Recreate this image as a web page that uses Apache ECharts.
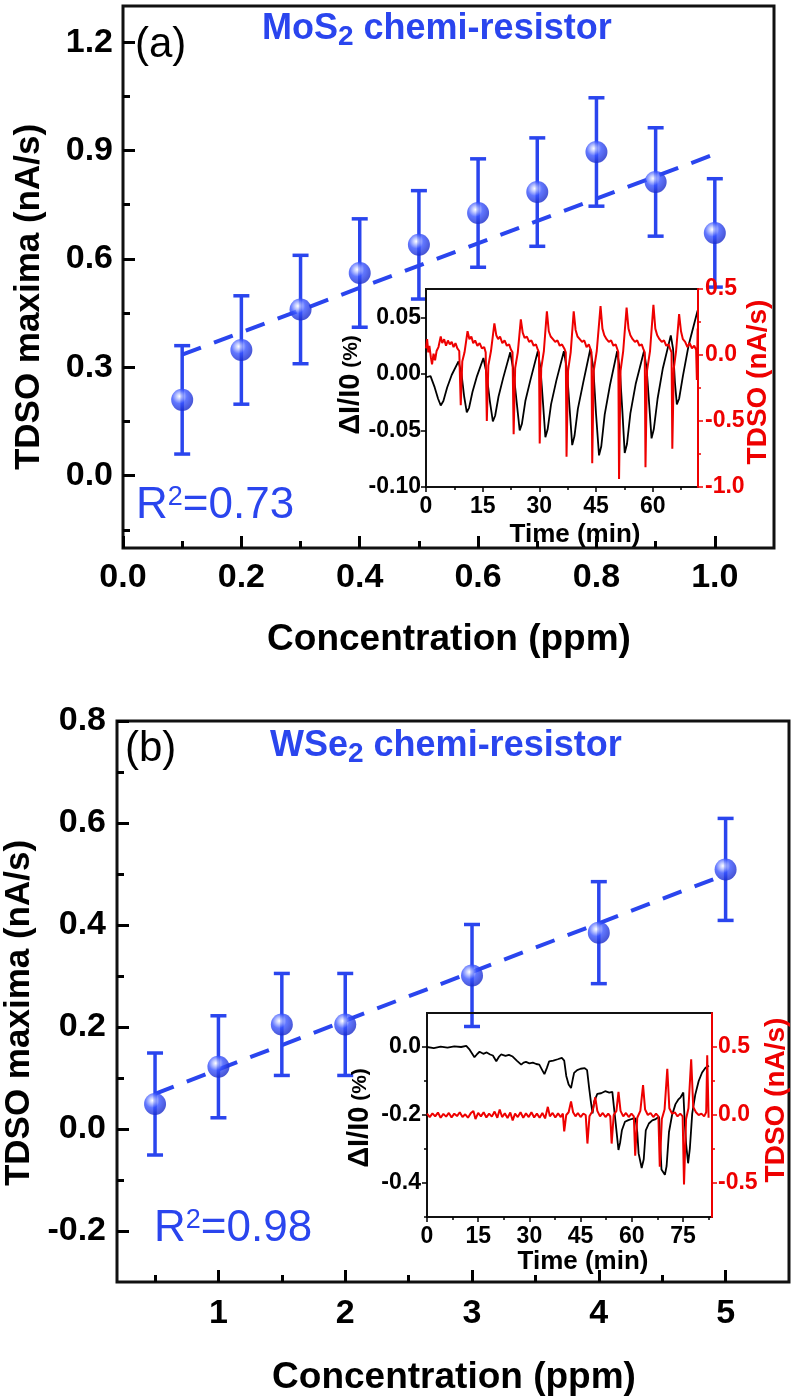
<!DOCTYPE html>
<html>
<head>
<meta charset="utf-8">
<script src="https://cdn.jsdelivr.net/npm/echarts@6/dist/echarts.min.js"></script>
<style>
  html, body { margin: 0; padding: 0; background: #fff; }
  #chart { width: 792px; height: 1397px; }
</style>
</head>
<body>
<div id="chart"></div>
<script>
const FONT = "'Liberation Sans', Arial, sans-serif";
const BLUE = '#2a45ee';
const RED = '#ee0000';

// panel (a): MoS2
const concA = [0.1, 0.2, 0.3, 0.4, 0.5, 0.6, 0.7, 0.8, 0.9, 1.0];
const tdsoA = [0.21, 0.348, 0.46, 0.561, 0.639, 0.727, 0.785, 0.896, 0.813, 0.672];
const errA = [0.15, 0.15, 0.15, 0.15, 0.15, 0.15, 0.15, 0.15, 0.15, 0.15];
const fitA = [[0.1, 0.335], [1.0, 0.89]];

// panel (b): WSe2
const concB = [0.5, 1, 1.5, 2, 3, 4, 5];
const tdsoB = [0.049, 0.122, 0.205, 0.205, 0.301, 0.385, 0.509];
const errB = [0.1, 0.1, 0.1, 0.1, 0.1, 0.1, 0.1];
const fitB = [[0.5, 0.069], [5, 0.499]];

// tick positions
const xTicksA = [0, 0.2, 0.4, 0.6, 0.8, 1.0];
const xMinorA = [0.1, 0.3, 0.5, 0.7, 0.9];
const yTicksA = [0, 0.3, 0.6, 0.9, 1.2];
const yMinorA = [-0.15, 0.15, 0.45, 0.75, 1.05];
const xTicksB = [1, 2, 3, 4, 5];
const xMinorB = [0.5, 1.5, 2.5, 3.5, 4.5];
const yTicksB = [-0.2, 0, 0.2, 0.4, 0.6, 0.8];
const yMinorB = [-0.1, 0.1, 0.3, 0.5, 0.7];

// insets
const ixTicksA = [0, 15, 30, 45, 60];
const ixMinorA = [7.5, 22.5, 37.5, 52.5, 67.5];
const iyTicksA = [-0.1, -0.05, 0, 0.05];
const iyRightA = [-1, -0.5, 0, 0.5];
const iyRightMinorA = [-0.75, -0.25, 0.25];
const ixTicksB = [0, 15, 30, 45, 60, 75];
const ixMinorB = [7.5, 22.5, 37.5, 52.5, 67.5, 82.5];
const iyTicksB = [-0.4, -0.2, 0];
const iyMinorB = [-0.5, -0.3, -0.1];
const iyRightB = [-0.5, 0, 0.5];
const iyRightMinorB = [-0.25, 0.25];

// inset (a): time (min), dI/I0 (%)
const dIA = [
  [0, -0.003], [1.2, -0.002], [2.3, -0.012], [3.2, -0.022], [3.9, -0.028], [4.6, -0.024], [5.6, -0.012], [6.8, -0.001], [8.6, 0.011],
  [9.4, 0.000], [10.1, -0.020], [10.8, -0.034], [11.4, -0.030], [12.3, -0.016], [13.5, -0.002], [15.2, 0.014],
  [16.0, 0.001], [16.9, -0.024], [17.7, -0.042], [18.3, -0.037], [19.2, -0.020], [20.4, -0.004], [22.3, 0.019],
  [23.1, 0.004], [24.0, -0.025], [24.8, -0.050], [25.4, -0.044], [26.3, -0.024], [27.6, -0.006], [29.6, 0.020],
  [30.3, 0.005], [31.0, -0.027], [31.6, -0.056], [32.2, -0.049], [33.1, -0.027], [34.5, -0.006], [36.5, 0.020],
  [37.3, 0.004], [38.0, -0.030], [38.7, -0.063], [39.3, -0.055], [40.2, -0.031], [41.6, -0.008], [43.5, 0.022],
  [44.3, 0.005], [45.0, -0.035], [45.8, -0.072], [46.4, -0.064], [47.3, -0.036], [48.7, -0.010], [50.6, 0.020],
  [51.3, 0.004], [52.0, -0.034], [52.6, -0.070], [53.2, -0.062], [54.1, -0.035], [55.5, -0.009], [57.7, 0.020],
  [58.4, 0.005], [59.1, -0.028], [59.7, -0.057], [60.3, -0.049], [61.3, -0.022], [62.7, 0.005], [64.8, 0.034],
  [65.4, 0.022], [65.9, -0.008], [66.4, -0.027], [67.0, -0.022], [68.0, -0.002], [69.5, 0.025], [71.9, 0.056]
];
const tdsoInA = [
  [0, 0.05], [0.3, 0.12], [0.6, 0.02], [0.9, 0.07], [1.3, -0.02], [1.6, -0.07], [2.0, 0.01], [2.4, -0.04], [2.8, 0.03], [3.3, 0.06],
  [3.9, 0.14], [4.3, 0.09], [4.8, 0.12], [5.3, 0.07], [5.8, 0.11], [6.3, 0.08], [6.8, 0.10], [7.3, 0.06], [7.8, 0.09], [8.3, 0.05], [8.8, 0.03],
  [9.2, -0.38], [9.6, -0.05], [10.2, 0.02], [11.0, 0.18], [11.5, 0.12], [12.0, 0.14], [12.5, 0.09], [13.0, 0.11], [13.6, 0.07], [14.2, 0.09], [14.8, 0.05], [15.4, 0.06], [15.8, 0.02],
  [16.1, -0.50], [16.5, -0.08], [17.2, 0.03], [18.1, 0.24], [18.6, 0.15], [19.1, 0.12], [19.6, 0.14], [20.2, 0.09], [20.8, 0.11], [21.4, 0.07], [22.0, 0.08], [22.5, 0.04], [22.9, 0.02],
  [23.2, -0.60], [23.6, -0.10], [24.3, 0.02], [25.1, 0.27], [25.6, 0.17], [26.1, 0.13], [26.7, 0.14], [27.3, 0.10], [27.9, 0.11], [28.5, 0.07], [29.1, 0.08], [29.6, 0.04], [29.9, 0.02],
  [30.1, -0.67], [30.5, -0.10], [31.2, 0.03], [32.0, 0.33], [32.5, 0.18], [33.0, 0.14], [33.6, 0.12], [34.2, 0.10], [34.8, 0.11], [35.4, 0.07], [36.0, 0.08], [36.6, 0.05], [37.0, 0.02],
  [37.2, -0.77], [37.6, -0.12], [38.3, 0.02], [39.1, 0.33], [39.6, 0.19], [40.1, 0.14], [40.7, 0.12], [41.3, 0.10], [41.9, 0.11], [42.5, 0.06], [43.1, 0.08], [43.6, 0.04], [43.8, 0.02],
  [44.0, -0.82], [44.4, -0.12], [45.2, 0.03], [46.2, 0.37], [46.7, 0.20], [47.2, 0.15], [47.8, 0.12], [48.4, 0.10], [49.0, 0.11], [49.6, 0.07], [50.2, 0.08], [50.7, 0.04], [50.9, 0.02],
  [51.1, -0.94], [51.5, -0.12], [52.2, 0.03], [53.1, 0.36], [53.6, 0.20], [54.1, 0.15], [54.7, 0.12], [55.3, 0.10], [55.9, 0.11], [56.5, 0.07], [57.1, 0.08], [57.6, 0.04], [57.9, 0.02],
  [58.1, -0.85], [58.5, -0.12], [59.3, 0.03], [60.2, 0.38], [60.7, 0.20], [61.2, 0.15], [61.8, 0.12], [62.4, 0.10], [63.0, 0.11], [63.6, 0.07], [64.2, 0.08], [64.7, 0.04], [65.0, 0.02],
  [65.2, -0.71], [65.6, -0.10], [66.2, 0.03], [67.0, 0.31], [67.5, 0.18], [68.0, 0.12], [68.6, 0.10], [69.2, 0.06], [69.8, 0.09], [70.4, 0.05], [71.0, 0.07], [71.5, 0.04], [71.7, -0.19], [71.9, 0.20]
];

// inset (b)
const dIB = [
  [0, 0.0], [2, -0.003], [4, 0.001], [6, -0.002], [8, 0.002], [10, 0.0], [11.5, 0.003], [12.5, -0.008], [13.9, -0.03], [14.6, -0.022],
  [15.4, -0.014], [16.5, -0.02], [17.5, -0.016], [18.5, -0.022], [19.3, -0.025], [20.3, -0.042], [21.0, -0.03], [21.7, -0.022], [23, -0.026],
  [24, -0.023], [25.1, -0.028], [26.3, -0.04], [27.6, -0.052], [28.3, -0.046], [29.0, -0.044], [30, -0.048], [31, -0.046], [32, -0.05],
  [32.9, -0.052], [33.6, -0.065], [34.4, -0.08], [35.1, -0.062], [35.8, -0.042], [37, -0.040], [38.3, -0.036], [39.5, -0.032], [40.2, -0.04],
  [40.8, -0.085], [41.5, -0.11], [42.2, -0.121], [42.7, -0.095], [43.1, -0.076], [44, -0.068], [45.0, -0.064], [46.2, -0.062], [46.9, -0.068],
  [47.5, -0.12], [48.0, -0.16], [48.5, -0.195], [49.0, -0.16], [49.9, -0.138], [51, -0.136], [52.2, -0.13], [53.4, -0.134], [54.3, -0.132],
  [54.8, -0.18], [55.3, -0.226], [56.1, -0.303], [56.6, -0.28], [57.1, -0.245], [58.0, -0.22], [59.0, -0.215], [60.2, -0.211], [61.1, -0.21],
  [61.6, -0.25], [62.0, -0.313], [62.9, -0.356], [63.5, -0.33], [64.1, -0.245], [65, -0.225], [66, -0.216], [67, -0.212], [68, -0.205],
  [68.4, -0.30], [68.7, -0.36], [69.7, -0.376], [70.2, -0.35], [70.9, -0.25], [71.8, -0.2], [72.8, -0.168], [73.6, -0.155], [74.3, -0.148],
  [75.1, -0.134], [75.5, -0.22], [75.9, -0.284], [76.5, -0.342], [77.0, -0.30], [77.7, -0.196], [78.6, -0.14], [79.6, -0.10], [80.6, -0.075],
  [81.6, -0.061], [82.6, -0.055]
];
const tdsoInB = [
  [0, 0.01], [0.8, -0.015], [1.6, 0.012], [2.4, -0.01], [3.2, 0.018], [4.0, -0.02], [4.8, 0.008], [5.6, -0.012], [6.4, 0.015], [7.2, -0.018],
  [8.0, 0.01], [8.8, -0.008], [9.6, 0.02], [10.4, -0.015], [11.2, 0.005], [12.0, -0.02], [12.8, 0.012], [13.6, 0.03], [14.2, -0.03], [15.0, 0.015],
  [15.8, -0.01], [16.6, 0.02], [17.4, -0.018], [18.2, 0.01], [19.0, -0.012], [19.8, 0.025], [20.6, -0.02], [21.3, 0.04], [22.0, -0.015], [22.8, 0.012],
  [23.6, -0.022], [24.4, 0.018], [25.1, -0.04], [25.8, 0.01], [26.6, -0.015], [27.4, 0.02], [28.2, -0.02], [29.0, 0.012], [29.8, -0.015], [30.6, 0.02],
  [31.4, -0.018], [32.2, 0.01], [33.0, -0.02], [33.8, 0.015], [34.6, -0.025], [35.4, 0.06], [36.0, -0.01], [36.8, 0.015], [37.6, -0.018], [38.4, 0.012],
  [39.2, -0.015], [39.8, 0.01], [40.2, -0.12], [40.8, 0.0], [41.5, 0.02], [42.2, 0.10], [42.8, 0.02], [43.5, -0.01], [44.2, 0.015], [45.0, -0.015],
  [45.8, 0.01], [46.5, 0.0], [47.0, -0.21], [47.6, -0.01], [48.5, 0.03], [49.3, 0.13], [49.9, 0.03], [50.7, -0.01], [51.5, 0.015], [52.3, -0.015],
  [53.1, 0.01], [53.7, -0.01], [54.1, -0.21], [54.7, 0.0], [55.5, 0.03], [56.1, 0.17], [56.7, 0.03], [57.5, -0.01], [58.3, 0.015], [59.1, -0.015],
  [59.9, 0.01], [60.6, -0.01], [61.0, -0.30], [61.6, -0.02], [62.5, 0.03], [63.3, 0.22], [63.9, 0.04], [64.7, 0.0], [65.5, 0.015], [66.3, -0.015],
  [67.1, 0.01], [67.8, -0.01], [68.2, -0.38], [68.8, -0.03], [69.6, 0.04], [70.4, 0.34], [71.0, 0.05], [71.8, 0.01], [72.6, 0.02], [73.4, -0.01],
  [74.2, 0.01], [74.9, -0.01], [75.3, -0.51], [75.9, -0.03], [76.6, 0.05], [77.4, 0.41], [78.0, 0.06], [78.8, 0.02], [79.6, 0.0], [80.4, 0.01],
  [81.2, -0.01], [81.8, 0.02], [82.1, 0.44], [82.5, -0.02]
];

function mkAxis(o) {
  const color = o.color || '#000';
  return {
    type: 'value', gridIndex: o.grid, position: o.pos, min: o.min, max: o.max, z: o.z || 2,
    axisLine: { show: !!o.line, onZero: false, lineStyle: { color: color, width: o.line || 1 } },
    axisTick: { show: true, inside: !!o.inside, length: o.len, customValues: o.ticks,
      lineStyle: { color: color, width: o.tw || 2 } },
    axisLabel: o.dec !== undefined ? {
      show: true, customValues: o.ticks, formatter: v => v.toFixed(o.dec),
      margin: o.margin, color: color, fontSize: o.fs, fontWeight: 'bold', fontFamily: FONT
    } : { show: false },
    splitLine: { show: false }
  };
}

function errorBar(params, api) {
  const x = api.value(0), lo = api.value(1), hi = api.value(2);
  const top = api.coord([x, hi]), bot = api.coord([x, lo]);
  const w = 8;
  const style = { stroke: BLUE, lineWidth: 3.5 };
  return {
    type: 'group',
    children: [
      { type: 'line', shape: { x1: top[0], y1: top[1], x2: bot[0], y2: bot[1] }, style },
      { type: 'line', shape: { x1: top[0] - w, y1: top[1], x2: top[0] + w, y2: top[1] }, style },
      { type: 'line', shape: { x1: bot[0] - w, y1: bot[1], x2: bot[0] + w, y2: bot[1] }, style }
    ]
  };
}

const ball = {
  type: 'radial', x: 0.38, y: 0.34, r: 0.66,
  colorStops: [
    { offset: 0, color: '#ffffff' }, { offset: 0.18, color: '#bcc6ff' },
    { offset: 0.5, color: '#3a55ff' }, { offset: 1, color: '#1a2ccc' }
  ]
};

function mainSeries(xi, yi, conc, vals, errs, fit) {
  return [
    { type: 'line', xAxisIndex: xi, yAxisIndex: yi, data: fit, symbol: 'none', silent: true, z: 3,
      lineStyle: { color: BLUE, width: 4, type: [20, 14] } },
    { type: 'custom', xAxisIndex: xi, yAxisIndex: yi, renderItem: errorBar, z: 3,
      encode: { x: 0, y: [1, 2] },
      data: conc.map((c, i) => [c, vals[i] - errs[i], vals[i] + errs[i]]) },
    { type: 'scatter', xAxisIndex: xi, yAxisIndex: yi, symbolSize: 22, z: 4,
      itemStyle: { color: ball }, data: conc.map((c, i) => [c, vals[i]]) }
  ];
}

function rot(text, x, y, rich) {
  return { type: 'text', x: x, y: y, rotation: Math.PI / 2, z: 50,
    style: { text: text, rich: rich, textAlign: 'center', textVerticalAlign: 'middle' } };
}
function plain(text, x, y, font, fill, align) {
  return { type: 'text', x: x, y: y, z: 50,
    style: { text: text, font: font, fill: fill || '#000', textAlign: align || 'center', textVerticalAlign: 'middle' } };
}

const chemRich = {
  a: { fontSize: 36, fontWeight: 'bold', fontFamily: FONT, fill: BLUE, lineHeight: 40, verticalAlign: 'top' },
  s: { fontSize: 28, fontWeight: 'bold', fontFamily: FONT, fill: BLUE, lineHeight: 40, verticalAlign: 'top', padding: [12, 0, 0, 0] }
};
const r2Rich = {
  a: { fontSize: 44, fontFamily: FONT, fill: BLUE, lineHeight: 50, verticalAlign: 'top' },
  s: { fontSize: 27, fontFamily: FONT, fill: BLUE, lineHeight: 22, verticalAlign: 'top' }
};
const bigTitle = { a: { fontSize: 35, fontWeight: 'bold', fontFamily: FONT, fill: '#000' } };
const dRich = {
  a: { fontSize: 29, fontWeight: 'bold', fontFamily: FONT, fill: '#000' },
  s: { fontSize: 21, fontWeight: 'bold', fontFamily: FONT, fill: '#000' }
};
const redTitle = { a: { fontSize: 28, fontWeight: 'bold', fontFamily: FONT, fill: RED } };

const chart = echarts.init(document.getElementById('chart'), null, { renderer: 'canvas' });
chart.setOption({
  backgroundColor: '#fff',
  animation: false,
  grid: [
    { left: 123, top: 6, width: 651, height: 542, show: true, borderColor: '#111', borderWidth: 3, outerBoundsMode: 'none', containLabel: false },
    { left: 117, top: 721, width: 672, height: 561, show: true, borderColor: '#111', borderWidth: 3, outerBoundsMode: 'none', containLabel: false },
    { left: 426, top: 289, width: 272, height: 198, show: true, borderColor: '#111', borderWidth: 2, outerBoundsMode: 'none', containLabel: false, z: 5 },
    { left: 427, top: 1013, width: 285, height: 204, show: true, borderColor: '#111', borderWidth: 2, outerBoundsMode: 'none', containLabel: false, z: 5 }
  ],
  xAxis: [
    mkAxis({ grid: 0, pos: 'bottom', min: 0, max: 1.1, ticks: xTicksA, len: 12, inside: true, tw: 3, dec: 1, fs: 34, margin: 13 }),
    mkAxis({ grid: 0, pos: 'bottom', min: 0, max: 1.1, ticks: xMinorA, len: 7, inside: true, tw: 3 }),
    mkAxis({ grid: 1, pos: 'bottom', min: 0.2, max: 5.5, ticks: xTicksB, len: 12, inside: true, tw: 3, dec: 0, fs: 34, margin: 15 }),
    mkAxis({ grid: 1, pos: 'bottom', min: 0.2, max: 5.5, ticks: xMinorB, len: 7, inside: true, tw: 3 }),
    mkAxis({ grid: 2, pos: 'bottom', min: 0, max: 72, ticks: ixTicksA, len: 5, tw: 1.5, dec: 0, fs: 23, margin: 8, z: 6 }),
    mkAxis({ grid: 2, pos: 'bottom', min: 0, max: 72, ticks: ixMinorA, len: 3, tw: 1.5, z: 6 }),
    mkAxis({ grid: 3, pos: 'bottom', min: 0, max: 83.5, ticks: ixTicksB, len: 5, tw: 1.5, dec: 0, fs: 23, margin: 8, z: 6 }),
    mkAxis({ grid: 3, pos: 'bottom', min: 0, max: 83.5, ticks: ixMinorB, len: 3, tw: 1.5, z: 6 })
  ],
  yAxis: [
    mkAxis({ grid: 0, pos: 'left', min: -0.2, max: 1.3, ticks: yTicksA, len: 12, inside: true, tw: 3, dec: 1, fs: 34, margin: 10 }),
    mkAxis({ grid: 0, pos: 'left', min: -0.2, max: 1.3, ticks: yMinorA, len: 7, inside: true, tw: 3 }),
    mkAxis({ grid: 1, pos: 'left', min: -0.3, max: 0.8, ticks: yTicksB, len: 12, inside: true, tw: 3, dec: 1, fs: 34, margin: 11 }),
    mkAxis({ grid: 1, pos: 'left', min: -0.3, max: 0.8, ticks: yMinorB, len: 7, inside: true, tw: 3 }),
    mkAxis({ grid: 2, pos: 'left', min: -0.1, max: 0.075, ticks: iyTicksA, len: 5, tw: 1.5, dec: 2, fs: 23, margin: 5, z: 6 }),
    mkAxis({ grid: 2, pos: 'right', min: -1, max: 0.5, ticks: iyRightA, len: 5, tw: 1.5, dec: 1, fs: 23, margin: 7, color: RED, line: 2, z: 7 }),
    mkAxis({ grid: 2, pos: 'right', min: -1, max: 0.5, ticks: iyRightMinorA, len: 3, tw: 1.5, color: RED, z: 7 }),
    mkAxis({ grid: 3, pos: 'left', min: -0.5, max: 0.1, ticks: iyTicksB, len: 5, tw: 1.5, dec: 1, fs: 23, margin: 6, z: 6 }),
    mkAxis({ grid: 3, pos: 'left', min: -0.5, max: 0.1, ticks: iyMinorB, len: 3, tw: 1.5, z: 6 }),
    mkAxis({ grid: 3, pos: 'right', min: -0.75, max: 0.75, ticks: iyRightB, len: 5, tw: 1.5, dec: 1, fs: 23, margin: 6, color: RED, line: 2, z: 7 }),
    mkAxis({ grid: 3, pos: 'right', min: -0.75, max: 0.75, ticks: iyRightMinorB, len: 3, tw: 1.5, color: RED, z: 7 })
  ],
  series: [
    ...mainSeries(0, 0, concA, tdsoA, errA, fitA),
    ...mainSeries(2, 2, concB, tdsoB, errB, fitB),
    { type: 'line', xAxisIndex: 4, yAxisIndex: 4, data: dIA, showSymbol: false, symbol: 'none', clip: true, z: 6,
      lineStyle: { color: '#000', width: 1.8 } },
    { type: 'line', xAxisIndex: 4, yAxisIndex: 5, data: tdsoInA, showSymbol: false, symbol: 'none', clip: true, z: 6,
      lineStyle: { color: RED, width: 2 } },
    { type: 'line', xAxisIndex: 6, yAxisIndex: 7, data: dIB, showSymbol: false, symbol: 'none', clip: true, z: 6,
      lineStyle: { color: '#000', width: 1.8 } },
    { type: 'line', xAxisIndex: 6, yAxisIndex: 9, data: tdsoInB, showSymbol: false, symbol: 'none', clip: true, z: 6,
      lineStyle: { color: RED, width: 2 } }
  ],
  graphic: [
    plain('(a)', 135, 45, '42px ' + FONT, '#000', 'left'),
    plain('(b)', 125, 749, '42px ' + FONT, '#000', 'left'),
    { type: 'text', x: 262, y: 11, z: 50, style: { text: '{a|MoS}{s|2}{a| chemi-resistor}', rich: chemRich } },
    { type: 'text', x: 270, y: 728, z: 50, style: { text: '{a|WSe}{s|2}{a| chemi-resistor}', rich: chemRich } },
    { type: 'text', x: 136, y: 484, z: 50, style: { text: '{a|R}{s|2}{a|=0.73}', rich: r2Rich } },
    { type: 'text', x: 154, y: 1207, z: 50, style: { text: '{a|R}{s|2}{a|=0.98}', rich: r2Rich } },
    rot('{a|TDSO maxima (nA/s)}', 29, 297, bigTitle),
    rot('{a|TDSO maxima (nA/s)}', 19, 1013, bigTitle),
    plain('Concentration (ppm)', 449, 640, 'bold 37px ' + FONT),
    plain('Concentration (ppm)', 454, 1378, 'bold 37px ' + FONT),
    plain('Time (min)', 575, 535, 'bold 26px ' + FONT),
    plain('Time (min)', 583, 1262, 'bold 26px ' + FONT),
    rot('{a|ΔI/I0}{s| (%)}', 351, 385, dRich),
    rot('{a|ΔI/I0}{s| (%)}', 360, 1118, dRich),
    rot('{a|TDSO (nA/s)}', 758, 382, redTitle),
    rot('{a|TDSO (nA/s)}', 776, 1100, redTitle)
  ]
});
</script>
</body>
</html>
